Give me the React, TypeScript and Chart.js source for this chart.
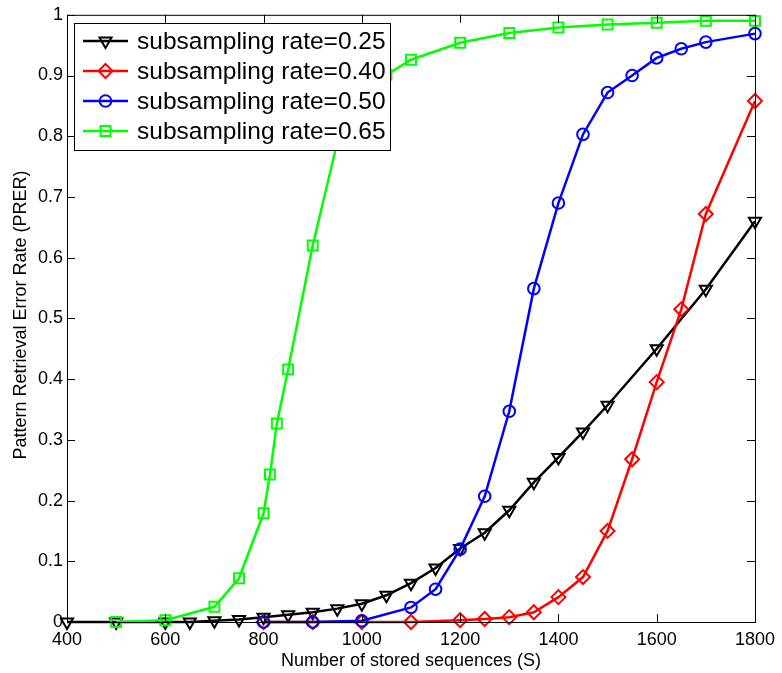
import React, { useEffect, useRef } from "react";
import { Chart, registerables } from "chart.js";

Chart.register(...registerables);

const seriesLabels = [
  "subsampling rate=0.25",
  "subsampling rate=0.40",
  "subsampling rate=0.50",
  "subsampling rate=0.65",
];
const seriesColors = ["#000000", "#ff0000", "#0000ff", "#00ff00"];
const seriesMarkers = ["triangle", "rectRot", "circle", "rect"];
const markerSizes = [7, 7, 5.8, 7];

const xBlack = [400, 500, 600, 650, 700, 750, 800, 850, 900, 950, 1000, 1050, 1100, 1150, 1200, 1250, 1300, 1350, 1400, 1450, 1500, 1600, 1700, 1800];
const yBlack = [0, 0, 0, 0, 0.002, 0.004, 0.008, 0.012, 0.016, 0.022, 0.03, 0.044, 0.064, 0.089, 0.121, 0.147, 0.184, 0.23, 0.271, 0.313, 0.357, 0.45, 0.548, 0.66];

const xRed = [800, 900, 1000, 1100, 1200, 1250, 1300, 1350, 1400, 1450, 1500, 1550, 1600, 1650, 1700, 1800];
const yRed = [0, 0, 0, 0, 0.003, 0.005, 0.008, 0.016, 0.041, 0.074, 0.15, 0.268, 0.395, 0.515, 0.672, 0.858];

const xBlue = [800, 900, 1000, 1100, 1150, 1200, 1250, 1300, 1350, 1400, 1450, 1500, 1550, 1600, 1650, 1700, 1800];
const yBlue = [0, 0, 0.002, 0.024, 0.054, 0.12, 0.207, 0.347, 0.549, 0.69, 0.803, 0.872, 0.9, 0.929, 0.944, 0.955, 0.969];

const xGreen = [500, 600, 700, 750, 800, 813, 827, 850, 900, 950, 1000, 1050, 1100, 1200, 1300, 1400, 1500, 1600, 1700, 1800];
const yGreen = [0, 0.003, 0.025, 0.072, 0.179, 0.243, 0.327, 0.416, 0.62, 0.79, 0.87, 0.901, 0.926, 0.954, 0.97, 0.979, 0.984, 0.987, 0.99, 0.99];

const xTicks = [400, 600, 800, 1000, 1200, 1400, 1600, 1800];
const yTicks = [0, 0.1, 0.2, 0.3, 0.4, 0.5, 0.6, 0.7, 0.8, 0.9, 1];

const xTitle = "Number of stored sequences (S)";
const yTitle = "Pattern Retrieval Error Rate (PRER)";

const FONT = "'Liberation Sans', Arial, Helvetica, sans-serif";

function zip(xs: number[], ys: number[]) {
  return xs.map((x, i) => ({ x, y: ys[i] }));
}

function drawMarker(ctx: CanvasRenderingContext2D, style: string, x: number, y: number, r: number) {
  ctx.beginPath();
  if (style === "circle") {
    ctx.arc(x, y, r, 0, Math.PI * 2);
  } else if (style === "rect") {
    const s = r * Math.SQRT1_2;
    ctx.rect(x - s, y - s, 2 * s, 2 * s);
  } else if (style === "rectRot") {
    ctx.moveTo(x, y - r);
    ctx.lineTo(x + r, y);
    ctx.lineTo(x, y + r);
    ctx.lineTo(x - r, y);
    ctx.closePath();
  } else if (style === "triangle") {
    const h = r * 0.5;
    const w = r * Math.sin(Math.PI / 3);
    ctx.moveTo(x, y + r);
    ctx.lineTo(x + w, y - h);
    ctx.lineTo(x - w, y - h);
    ctx.closePath();
  }
  ctx.stroke();
}

const framePlugin = {
  id: "matlabFrame",
  afterDraw(chart: any) {
    const ctx = chart.ctx as CanvasRenderingContext2D;
    const { left, right, top, bottom } = chart.chartArea;
    const xs = chart.scales.x;
    const ys = chart.scales.y;
    ctx.save();
    ctx.strokeStyle = "#000";
    ctx.lineWidth = 1;
    ctx.strokeRect(left + 0.5, top + 0.5, right - left, bottom - top);
    const tl = 8;
    ctx.beginPath();
    xTicks.forEach((v) => {
      const px = Math.round(xs.getPixelForValue(v)) + 0.5;
      ctx.moveTo(px, bottom);
      ctx.lineTo(px, bottom - tl);
      ctx.moveTo(px, top);
      ctx.lineTo(px, top + tl);
    });
    yTicks.forEach((v) => {
      const py = Math.round(ys.getPixelForValue(v)) + 0.5;
      ctx.moveTo(left, py);
      ctx.lineTo(left + tl, py);
      ctx.moveTo(right, py);
      ctx.lineTo(right - tl, py);
    });
    ctx.stroke();

    // legend
    const lx = 74, ly = 23, lw = 316, lh = 127;
    ctx.fillStyle = "#fff";
    ctx.fillRect(lx, ly, lw, lh);
    ctx.strokeStyle = "#000";
    ctx.lineWidth = 1;
    ctx.strokeRect(lx + 0.5, ly + 0.5, lw, lh);
    ctx.font = `24.5px ${FONT}`;
    ctx.textBaseline = "middle";
    ctx.textAlign = "left";
    seriesLabels.forEach((lab, i) => {
      const ry = 41 + i * 30;
      ctx.strokeStyle = seriesColors[i];
      ctx.lineWidth = 2.5;
      ctx.beginPath();
      ctx.moveTo(83, ry);
      ctx.lineTo(128, ry);
      ctx.stroke();
      ctx.lineWidth = 2;
      drawMarker(ctx, seriesMarkers[i], 105.5, ry, markerSizes[i]);
      ctx.fillStyle = "#000";
      ctx.fillText(lab, 137, ry + 1);
    });

    // axis titles
    ctx.fillStyle = "#000";
    ctx.font = `18px ${FONT}`;
    ctx.textAlign = "center";
    ctx.textBaseline = "middle";
    ctx.fillText(xTitle, (left + right) / 2, 661);
    ctx.translate(21, 315);
    ctx.rotate(-Math.PI / 2);
    ctx.fillText(yTitle, 0, 0);
    ctx.restore();
  },
};

export default function App() {
  const ref = useRef<HTMLCanvasElement | null>(null);
  useEffect(() => {
    if (!ref.current) return;
    const mk = (i: number, data: { x: number; y: number }[], order: number) => ({
      label: seriesLabels[i],
      data,
      borderColor: seriesColors[i],
      backgroundColor: "rgba(0,0,0,0)",
      pointBackgroundColor: "rgba(0,0,0,0)",
      pointBorderColor: seriesColors[i],
      pointBorderWidth: 2,
      pointRadius: markerSizes[i],
      pointStyle: seriesMarkers[i],
      pointRotation: seriesMarkers[i] === "triangle" ? 180 : 0,
      borderWidth: 2.5,
      tension: 0,
      fill: false,
      clip: false as any,
      order,
    });
    const chart = new Chart(ref.current, {
      type: "line",
      data: {
        datasets: [
          mk(0, zip(xBlack, yBlack), 3),
          mk(1, zip(xRed, yRed), 2),
          mk(2, zip(xBlue, yBlue), 1),
          mk(3, zip(xGreen, yGreen), 0),
        ],
      },
      options: {
        animation: false,
        responsive: false,
        layout: { padding: { left: 0, top: 14, right: 20, bottom: 0 } },
        plugins: { legend: { display: false }, tooltip: { enabled: false } },
        scales: {
          x: {
            type: "linear",
            min: 400,
            max: 1800,
            afterBuildTicks: (s: any) => {
              s.ticks = xTicks.map((v) => ({ value: v }));
            },
            afterFit: (s: any) => {
              s.height = 51;
            },
            grid: { display: false, drawTicks: false },
            border: { display: false },
            ticks: {
              color: "#000",
              font: { family: FONT, size: 18 },
              padding: 7,
              maxRotation: 0,
              autoSkip: false,
              callback: (v: any) => String(v),
            },
          },
          y: {
            type: "linear",
            min: 0,
            max: 1,
            afterBuildTicks: (s: any) => {
              s.ticks = yTicks.map((v) => ({ value: v }));
            },
            afterFit: (s: any) => {
              s.width = 67;
            },
            grid: { display: false, drawTicks: false },
            border: { display: false },
            ticks: {
              color: "#000",
              font: { family: FONT, size: 18 },
              padding: 4,
              autoSkip: false,
              callback: (v: any) => String(Number(Number(v).toFixed(1))),
            },
          },
        },
      },
      plugins: [framePlugin],
    });
    return () => chart.destroy();
  }, []);
  return (
    <div style={{ position: "fixed", left: 0, top: 0, width: 782, height: 673, background: "#fff" }}>
      <canvas ref={ref} width={782} height={673} style={{ display: "block", width: 782, height: 673 }} />
    </div>
  );
}
